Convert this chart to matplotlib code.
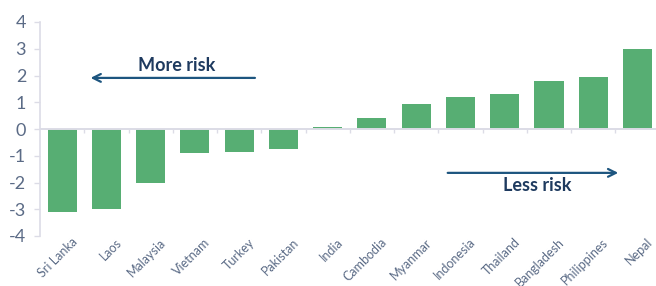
import numpy as np
import matplotlib
matplotlib.use("Agg")
import matplotlib.pyplot as plt
import matplotlib.transforms as mtransforms

# data
countries = ["Sri Lanka", "Laos", "Malaysia", "Vietnam", "Turkey", "Pakistan", "India",
             "Cambodia", "Myanmar", "Indonesia", "Thailand", "Bangladesh", "Philippines", "Nepal"]
scores = [-3.1, -3.0, -2.0, -0.9, -0.85, -0.75, 0.08, 0.4, 0.95, 1.2, 1.3, 1.8, 1.95, 3.0]
y_ticks = [-4, -3, -2, -1, 0, 1, 2, 3, 4]

BAR = "#57AE73"
GRID = "#DCDCE6"
LABEL = "#5B6B86"
NAVY = "#1E3A5F"
ARROW = "#1D557F"

plt.rcParams["font.family"] = ["Lato", "DejaVu Sans"]

fig = plt.figure(figsize=(6.56, 2.86), dpi=100)
ax = fig.add_axes([40 / 656, 50 / 286, 1 - 40 / 656, 214 / 286])

x = np.arange(len(countries))
ax.bar(x, scores, width=0.66, color=BAR, zorder=2)
ax.axhline(0, color=GRID, lw=1.4, zorder=3)
ax.vlines(x[:-1] + 0.5, -0.15, 0, color=GRID, lw=1, zorder=3)

ax.set_xlim(-0.5, 13.42)
ax.set_ylim(-4, 4)
ax.set_yticks(y_ticks)
ax.set_yticklabels([str(v) for v in y_ticks], color=LABEL, fontsize=13)
ax.set_xticks(x)
ax.set_xticklabels(countries, rotation=45, ha="right", rotation_mode="anchor",
                   color=LABEL, fontsize=9)
ax.tick_params(axis="x", length=0, pad=0)
ax.tick_params(axis="y", length=4, width=1, color=GRID, pad=6)

shift = mtransforms.ScaledTranslation(9 / 100, 0, fig.dpi_scale_trans)
for lab in ax.get_xticklabels():
    lab.set_transform(lab.get_transform() + shift)

for s in ["top", "right", "bottom"]:
    ax.spines[s].set_visible(False)
ax.spines["left"].set_color(GRID)
ax.spines["left"].set_linewidth(1.2)

# annotations
ax.annotate("", xy=(0.58, 1.91), xytext=(4.42, 1.91),
            arrowprops=dict(arrowstyle="->", color=ARROW, lw=1.6, mutation_scale=14))
ax.text(2.6, 2.36, "More risk", ha="center", va="center", color=NAVY,
        fontsize=13, fontweight="bold")
ax.annotate("", xy=(12.63, -1.64), xytext=(8.65, -1.64),
            arrowprops=dict(arrowstyle="->", color=ARROW, lw=1.6, mutation_scale=14))
ax.text(10.73, -2.12, "Less risk", ha="center", va="center", color=NAVY,
        fontsize=13, fontweight="bold")

fig.savefig("out.png", dpi=100)
